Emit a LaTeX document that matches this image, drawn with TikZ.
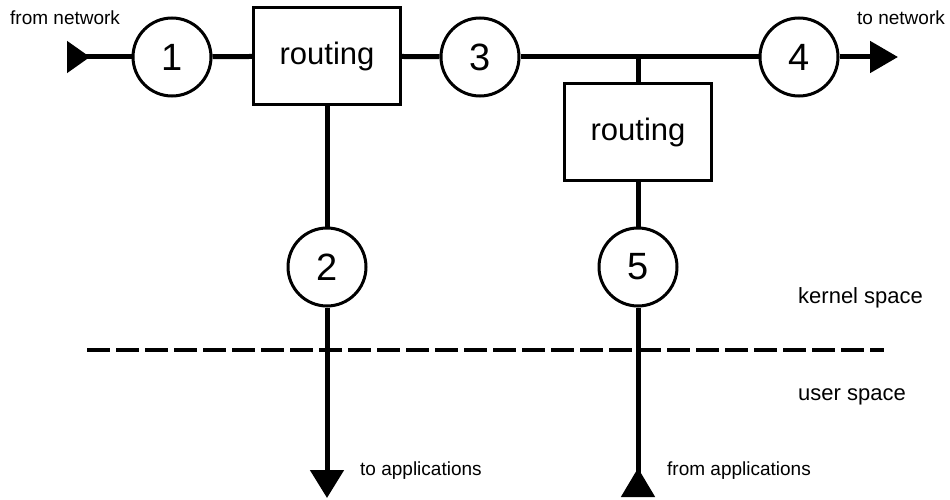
\documentclass[tikz,border=0pt]{standalone}
\usepackage{fontspec}
\setmainfont{Liberation Sans}
\usetikzlibrary{arrows.meta}

\begin{document}
\begin{tikzpicture}[x=1pt,y=-1pt,
  num/.style={circle,draw,fill=white,line width=3pt,minimum size=78pt,inner sep=0pt,font=\fontsize{38}{40}\selectfont},
  rout/.style={rectangle,draw,fill=white,line width=3pt,minimum width=147pt,minimum height=97pt,font=\fontsize{31}{36}\selectfont},
  wire/.style={line width=5pt},
  lbl/.style={anchor=west,inner sep=0pt,font=\fontsize{19}{23}\selectfont},
  side/.style={anchor=west,inner sep=0pt,font=\fontsize{22}{26}\selectfont}]

\useasboundingbox (0,0) rectangle (950,500);

% Define the ends of the lines
\coordinate (in) at (67,57);
\coordinate (out) at (898,57);
\coordinate (J) at (638,57);
\coordinate (toapp) at (327,498);
\coordinate (fromapp) at (638,497);

% Draw the routing boxes and the numbered points
\node[rout] (R1) at (327,56) {routing};
\node[rout] (R2) at (638,132) {routing};
\foreach \n/\x/\y in {1/172/57,3/480/57,4/799/57,2/327/267,5/638/267} {
  \node[num] (c\n) at (\x,\y) {\n};
}

% Draw the lines between them
\draw[wire,{Triangle[length=23pt,width=31pt,reversed]}-] (in) -- (c1);
\draw[wire] (c1) -- (R1);
\draw[wire] (R1) -- (c3);
\draw[wire] (c3) -- (c4);
\draw[wire,-{Triangle[length=28pt,width=31pt]}] (c4) -- (out);
\draw[wire] (J) -- (R2);
\draw[wire] (R1) -- (c2);
\draw[wire,-{Triangle[length=28pt,width=33pt]}] (c2) -- (toapp);
\draw[wire] (R2) -- (c5);
\draw[wire,{Triangle[length=29pt,width=33pt,reversed]}-] (fromapp) -- (c5);

% Kernel / user border
\draw[line width=4pt,dash pattern=on 23pt off 6pt] (87,350) -- (884,350);

\node[lbl] (fn) at (10,18) {from network};
\node[lbl] (tn) at (857,18) {to network};
\node[lbl] (ta) at (360,471) {to applications};
\node[lbl] (fa) at (667,471) {from applications};
\node[side] (ks) at (798,298) {kernel space};
\node[side] (us) at (798,397) {user space};

\end{tikzpicture}
\end{document}
